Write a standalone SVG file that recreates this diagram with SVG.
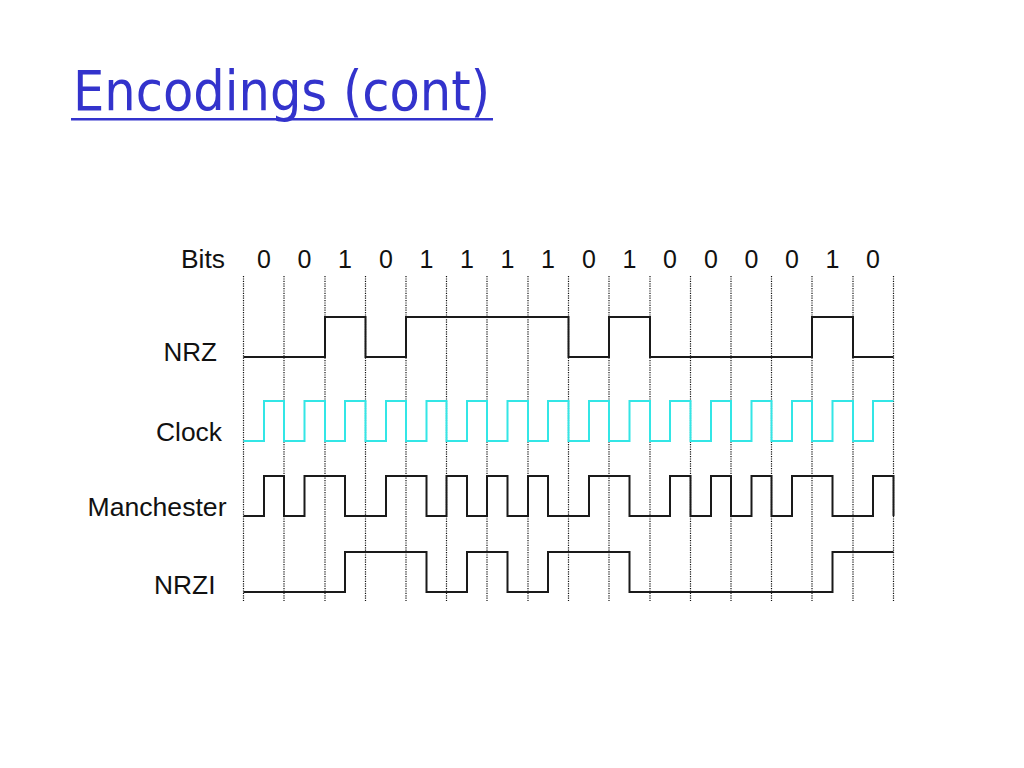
<svg xmlns="http://www.w3.org/2000/svg" width="1024" height="768" viewBox="0 0 1024 768">
<style>
.lbl{font-family:"Liberation Sans",Arial,sans-serif;font-size:25.5px;fill:#111}
.bit{font-family:"Liberation Sans",Arial,sans-serif;font-size:25px;fill:#111;text-anchor:middle}
.grid{stroke:#111;stroke-width:1.2;stroke-dasharray:1.2 1.2;fill:none}
.sig{stroke:#1a1a1a;stroke-width:2;fill:none}
.clk{stroke:#33E6E6;stroke-width:2;fill:none}
</style>
<rect width="1024" height="768" fill="#fff"/>
<g id="title">
<text x="73" y="110" font-family="DejaVu Sans,Verdana,sans-serif" font-size="55" fill="#3333CC" textLength="417" lengthAdjust="spacingAndGlyphs">Encodings (cont)</text>
<rect x="71" y="118" width="422" height="2.5" fill="#3333CC"/>
</g>
<g id="grid">
<path class="grid" d="M243.5,276V601M284,276V601M325,276V601M365.5,276V601M406,276V601M446.5,276V601M487,276V601M528,276V601M568.5,276V601M609,276V601M650,276V601M690.5,276V601M731,276V601M771.5,276V601M812,276V601M853,276V601M893.5,276V601"/>
</g>
<g id="bits">
<text class="lbl" x="181" y="268" textLength="44" lengthAdjust="spacingAndGlyphs">Bits</text>
<text class="bit" x="264" y="268">0</text>
<text class="bit" x="304.5" y="268">0</text>
<text class="bit" x="345" y="268">1</text>
<text class="bit" x="386" y="268">0</text>
<text class="bit" x="426.5" y="268">1</text>
<text class="bit" x="467" y="268">1</text>
<text class="bit" x="507.5" y="268">1</text>
<text class="bit" x="548" y="268">1</text>
<text class="bit" x="589" y="268">0</text>
<text class="bit" x="629.5" y="268">1</text>
<text class="bit" x="670" y="268">0</text>
<text class="bit" x="711" y="268">0</text>
<text class="bit" x="751.5" y="268">0</text>
<text class="bit" x="792" y="268">0</text>
<text class="bit" x="832.5" y="268">1</text>
<text class="bit" x="873" y="268">0</text>
</g>
<g id="nrz">
<text class="lbl" x="163.5" y="361" textLength="53.5" lengthAdjust="spacingAndGlyphs">NRZ</text>
<path class="sig" d="M243.5,357H325V317H365.5V357H406V317H568.5V357H609V317H650V357H812V317H853V357H893.5"/>
</g>
<g id="clock">
<text class="lbl" x="156" y="441" textLength="66" lengthAdjust="spacingAndGlyphs">Clock</text>
<path class="clk" d="M243.5,441H264V401H284V441H304.5V401H325V441H345V401H365.5V441H386V401H406V441H426.5V401H446.5V441H467V401H487V441H507.5V401H528V441H548V401H568.5V441H589V401H609V441H629.5V401H650V441H670V401H690.5V441H711V401H731V441H751.5V401H771.5V441H792V401H812V441H832.5V401H853V441H873V401H893.5"/>
</g>
<g id="manchester">
<text class="lbl" x="87.5" y="516" textLength="139" lengthAdjust="spacingAndGlyphs">Manchester</text>
<path class="sig" d="M243.5,516H264V476H284V516H304.5V476H345V516H386V476H426.5V516H446.5V476H467V516H487V476H507.5V516H528V476H548V516H589V476H629.5V516H670V476H690.5V516H711V476H731V516H751.5V476H771.5V516H792V476H832.5V516H873V476H893.5V516"/>
</g>
<g id="nrzi">
<text class="lbl" x="154" y="594" textLength="61.5" lengthAdjust="spacingAndGlyphs">NRZI</text>
<path class="sig" d="M243.5,592H345V552H426.5V592H467V552H507.5V592H548V552H629.5V592H832.5V552H893.5"/>
</g>
</svg>
